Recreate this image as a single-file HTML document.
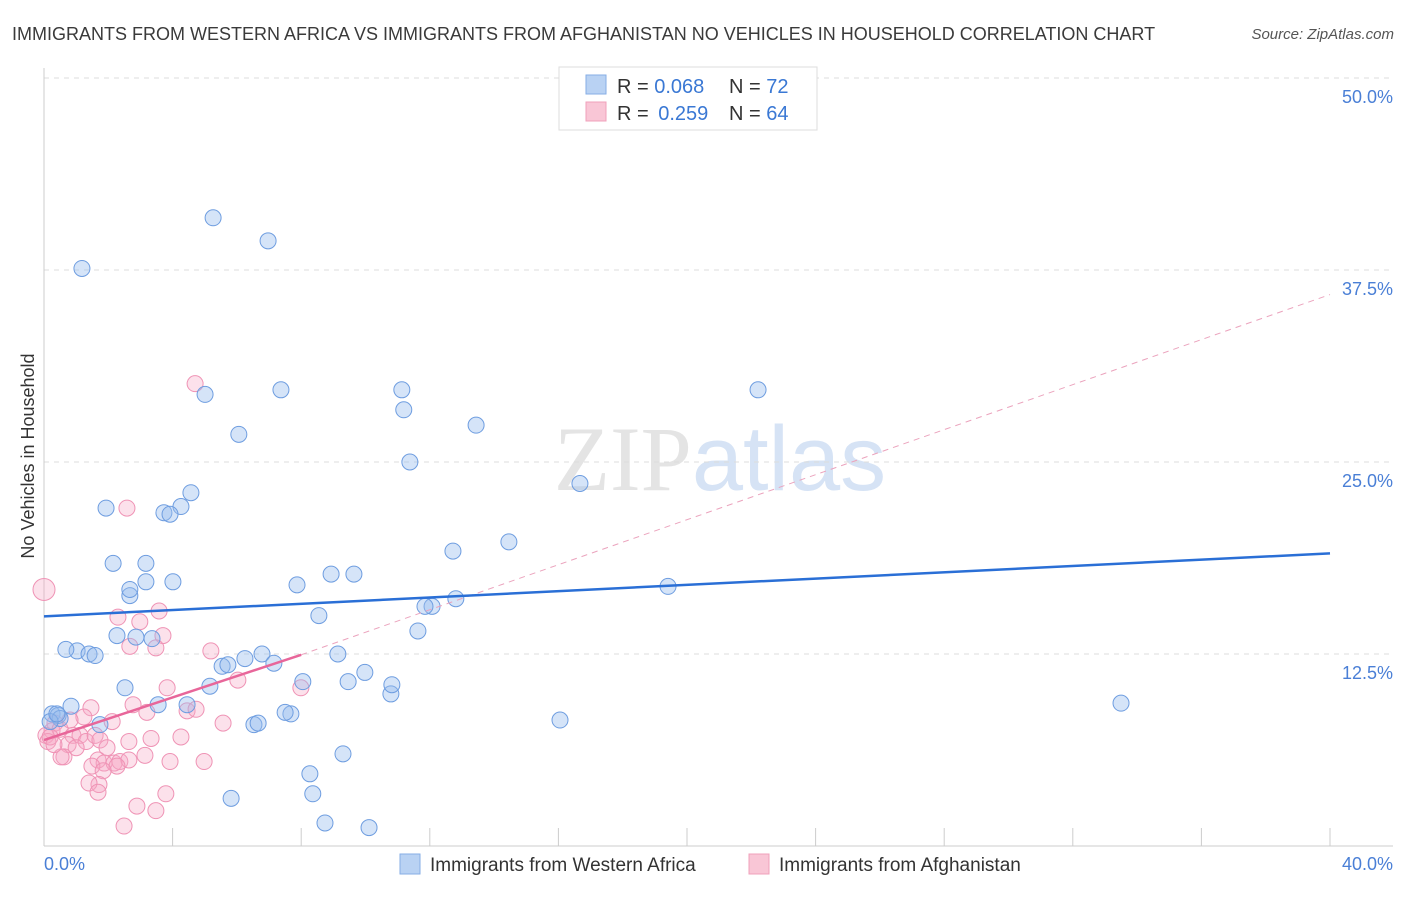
<!DOCTYPE html>
<html><head><meta charset="utf-8"><style>
body{margin:0;background:#fff;font-family:"Liberation Sans",sans-serif;}
svg text{font-family:"Liberation Sans",sans-serif;}
</style></head><body>
<svg id="chart" width="1406" height="892" viewBox="0 0 1406 892" xmlns="http://www.w3.org/2000/svg">
<text x="12" y="40" font-size="18" fill="#3a3a3a">IMMIGRANTS FROM WESTERN AFRICA VS IMMIGRANTS FROM AFGHANISTAN NO VEHICLES IN HOUSEHOLD CORRELATION CHART</text>
<text x="1394" y="39" font-size="15" fill="#555" font-style="italic" text-anchor="end">Source: ZipAtlas.com</text>
<text x="720" y="490" font-size="92" text-anchor="middle" fill="#e4e4e4"><tspan font-family="Liberation Serif">ZIP</tspan><tspan fill="#d6e3f5">atlas</tspan></text>
<g id="grid"></g>
<g id="axes"></g>
<g id="marks"></g>
<g id="lines"></g>
<text transform="translate(34,456) rotate(-90)" font-size="18" fill="#333" text-anchor="middle">No Vehicles in Household</text>
<g>
<rect x="559" y="67" width="258" height="63" fill="#fff" stroke="#ddd"/>
<rect x="586" y="75" width="20" height="19" fill="#b9d2f3" stroke="#86aee6"/>
<rect x="586" y="102" width="20" height="19" fill="#f9c6d6" stroke="#f0a0bb"/>
<text x="617" y="93" font-size="20" fill="#333">R = <tspan fill="#3a78d4">0.068</tspan><tspan x="729">N = </tspan><tspan fill="#3a78d4">72</tspan></text>
<text x="617" y="120" font-size="20" fill="#333">R = <tspan fill="#3a78d4" dx="4">0.259</tspan><tspan x="729">N = </tspan><tspan fill="#3a78d4">64</tspan></text>
</g>
<g>
<rect x="400" y="854" width="20" height="20" fill="#b9d2f3" stroke="#86aee6"/>
<text x="430" y="871" font-size="19" fill="#333">Immigrants from Western Africa</text>
<rect x="749" y="854" width="20" height="20" fill="#f9c6d6" stroke="#f0a0bb"/>
<text x="779" y="871" font-size="19" fill="#333">Immigrants from Afghanistan</text>
</g>
</svg>
<script>
const yTicks=[12.5,25,37.5,50];
const yTickLabels=["12.5%","25.0%","37.5%","50.0%"];
const xTicks=[0,4,8,12,16,20,24,28,32,36,40];
const blueX=[1.18,5.26,6.97,5.01,7.37,11.13,11.19,22.21,6.06,13.44,11.38,16.67,1.93,4.57,4.26,3.73,3.92,14.46,12.72,2.15,3.17,3.17,2.67,2.67,4.01,7.87,8.93,9.64,19.41,12.81,12.07,11.85,8.55,11.63,2.27,1.03,3.36,0.68,1.4,2.86,6.78,7.15,1.59,5.54,5.72,6.25,9.14,9.98,9.46,2.52,5.16,8.05,10.79,10.82,33.5,0.84,3.55,4.45,7.68,7.5,0.25,0.44,0.5,1.74,6.53,6.66,9.3,8.27,8.36,5.82,8.74,10.11,16.05,0.19,0.4];
const blueY=[37.6,40.9,39.4,29.4,29.7,29.7,28.4,29.7,26.8,27.4,25.0,23.6,22.0,23.0,22.1,21.7,21.6,19.8,19.2,18.4,18.4,17.2,16.3,16.7,17.2,17.0,17.7,17.7,16.9,16.1,15.6,15.6,15.0,14.0,13.7,12.7,13.5,12.8,12.5,13.6,12.5,11.9,12.4,11.7,11.8,12.2,12.5,11.3,10.7,10.3,10.4,10.7,9.9,10.5,9.3,9.1,9.2,9.2,8.6,8.7,8.6,8.5,8.3,7.9,7.9,8.0,6.0,4.7,3.4,3.1,1.5,1.2,8.2,8.1,8.6];
const pinkX=[0,4.7,2.58,2.3,3.58,2.98,3.7,3.48,2.67,5.19,6.03,3.83,7.99,4.45,4.73,3.2,1.46,1.24,2.77,5.57,2.12,0.34,0.25,0.5,0.81,0.9,1.12,1.31,1.59,1.74,0.75,1.0,2.64,3.33,4.26,1.96,3.14,0.62,0.53,1.68,1.87,2.18,2.36,2.64,1.49,2.27,3.92,4.98,1.84,1.71,1.4,1.68,3.79,2.89,3.48,2.49,0.06,0.12,0.19,0.31];
const pinkY=[16.7,30.1,22.0,14.9,15.3,14.6,13.7,12.9,13.0,12.7,10.8,10.3,10.3,8.8,8.9,8.7,9.0,8.4,9.2,8.0,8.1,8.0,7.5,7.6,8.2,7.2,7.2,6.8,7.2,6.9,6.6,6.4,6.8,7.0,7.1,6.4,5.9,5.8,5.8,5.6,5.4,5.4,5.5,5.6,5.2,5.2,5.5,5.5,4.9,4.0,4.1,3.5,3.4,2.6,2.3,1.3,7.2,6.8,7.1,6.6];
const blueTrend=[[0,14.95],[40,19.05]];
const pinkTrend=[[0,6.9],[8,12.45]];
const pinkDash=[[8,12.45],[40,35.9]];
const NS="http://www.w3.org/2000/svg";
const sx=v=>44+v/40*1286;
const sy=v=>846-v/12.5*192;
function mk(tag,attrs,parent){const e=document.createElementNS(NS,tag);for(const k in attrs)e.setAttribute(k,attrs[k]);parent.appendChild(e);return e;}
const grid=document.getElementById('grid'),axes=document.getElementById('axes'),marks=document.getElementById('marks'),lines=document.getElementById('lines');
yTicks.forEach((t,i)=>{
 const l=mk('line',{x1:44,x2:1393,y1:sy(t),y2:sy(t),stroke:'#dcdcdc','stroke-dasharray':'5,5'},grid);
 
 
 const tx=mk('text',{x:1393,y:sy(t)+25,'font-size':18,fill:'#4a7fd6','text-anchor':'end'},axes);
 tx.textContent=yTickLabels[i];
 
 
});
let a=mk('line',{x1:44,x2:44,y1:68,y2:846,stroke:'#ccc'},axes);


a=mk('line',{x1:44,x2:1393,y1:846,y2:846,stroke:'#ccc'},axes);


xTicks.forEach(t=>{
 const l=mk('line',{x1:sx(t),x2:sx(t),y1:828,y2:846,stroke:'#ccc'},axes);
 
 
});
let xl=mk('text',{x:44,y:870,'font-size':18,fill:'#4a7fd6'},axes);xl.textContent='0.0%';


xl=mk('text',{x:1393,y:870,'font-size':18,fill:'#4a7fd6','text-anchor':'end'},axes);xl.textContent='40.0%';


pinkX.forEach((x,i)=>{
 const c=mk('circle',{cx:sx(x),cy:sy(pinkY[i]),r:i===0?11:8,fill:'rgba(246,170,198,0.35)',stroke:'#ef93b5','stroke-width':1},marks);
 
 
});
blueX.forEach((x,i)=>{
 const c=mk('circle',{cx:sx(x),cy:sy(blueY[i]),r:8,fill:'rgba(150,188,238,0.4)',stroke:'#6e9de0','stroke-width':1},marks);
 
 
});
let t=mk('line',{x1:sx(pinkDash[0][0]),y1:sy(pinkDash[0][1]),x2:sx(pinkDash[1][0]),y2:sy(pinkDash[1][1]),stroke:'#eba3bd','stroke-dasharray':'6,5','stroke-width':1},lines);


t=mk('line',{x1:sx(blueTrend[0][0]),y1:sy(blueTrend[0][1]),x2:sx(blueTrend[1][0]),y2:sy(blueTrend[1][1]),stroke:'#2a6fd6','stroke-width':2.5},lines);


t=mk('line',{x1:sx(pinkTrend[0][0]),y1:sy(pinkTrend[0][1]),x2:sx(pinkTrend[1][0]),y2:sy(pinkTrend[1][1]),stroke:'#e8669a','stroke-width':2.5},lines);


</script>
</body></html>
